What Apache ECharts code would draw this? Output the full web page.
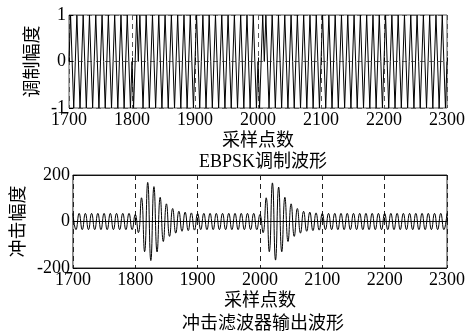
<!DOCTYPE html>
<html>
<head>
<meta charset="utf-8">
<script src="https://cdn.jsdelivr.net/npm/echarts@6/dist/echarts.min.js"></script>
<style>
  html, body { margin: 0; padding: 0; background: #fff; }
  #chart { width: 476px; height: 334px; }
</style>
</head>
<body>
<div id="chart"></div>
<script>
// x 轴刻度
const xTicks = [1700, 1800, 1900, 2000, 2100, 2200, 2300]

// 调制波形: 一个载波周期的四分之一点, 每周期的相位 (+1 正常, -1 反相)
const carrierShape = [0, 1, 0, -1]
const topCyclePhase = [
  1, 1, 1, 1, 1, 1, 1, 1, 1, 1,
  -1, 1, 1, 1, 1, 1, 1, 1, 1, 1,
  1, 1, 1, 1, 1, 1, 1, 1, 1, 1,
  -1, 1, 1, 1, 1, 1, 1, 1, 1, 1,
  1, 1, 1, 1, 1, 1, 1, 1, 1, 1,
  1, 1, 1, 1, 1, 1, 1, 1, 1, 1
]

// 冲击滤波器输出: 每周期的波峰 (1700+10k) 和波谷 (1705+10k)
const bottomPeaks = [
  35, 35, 35, 35, 35, 35, 35, 35, 35, 35,
  30, 102, 168, 150, 104, 76, 56, 44, 40, 37,
  35, 35, 35, 35, 35, 35, 35, 35, 35, 35,
  30, 102, 166, 148, 104, 76, 56, 44, 40, 37,
  35, 35, 35, 35, 35, 35, 35, 35, 35, 35,
  35, 35, 35, 35, 35, 35, 35, 35, 35, 35,
  35
]
const bottomTroughs = [
  -35, -35, -35, -35, -35, -35, -35, -35, -35, -35,
  -48, -130, -168, -131, -86, -64, -50, -42, -39, -37,
  -35, -35, -35, -35, -35, -35, -35, -35, -35, -35,
  -48, -130, -166, -130, -86, -64, -50, -42, -39, -37,
  -35, -35, -35, -35, -35, -35, -35, -35, -35, -35,
  -35, -35, -35, -35, -35, -35, -35, -35, -35, -35
]

const topData = []
topCyclePhase.forEach((ph, c) => {
  carrierShape.forEach((v, j) => {
    topData.push([xTicks[0] + 10 * c + 2.5 * j, ph * v])
  })
})
topData.push([xTicks[xTicks.length - 1], 0])

const bottomData = []
bottomPeaks.forEach((p, c) => {
  bottomData.push([xTicks[0] + 10 * c, p])
  if (c < bottomTroughs.length) bottomData.push([xTicks[0] + 10 * c + 5, bottomTroughs[c]])
})

const serif = "'Liberation Serif', 'Noto Sans CJK SC', serif"
const cjk = "'Noto Sans CJK SC', sans-serif"

const xAxisBase = (gridIndex, splitDash) => ({
  type: 'value',
  gridIndex,
  min: 1700,
  max: 2300,
  interval: 100,
  name: '采样点数',
  nameLocation: 'middle',
  nameGap: 21,
  nameTextStyle: {fontFamily: cjk, fontSize: 18, color: '#000'},
  axisLine: {show: false},
  axisTick: {show: true, inside: true, length: 4, lineStyle: {color: '#000'}},
  axisLabel: {fontFamily: serif, fontSize: 18, color: '#000', margin: 3, formatter: v => String(v)},
  splitLine: {show: true, lineStyle: {color: splitDash, type: [5, 4], width: 1}}
})

const chart = echarts.init(document.getElementById('chart'))
chart.setOption({
  animation: false,
  backgroundColor: '#fff',
  title: [
    {
      text: 'EBPSK调制波形', left: 258, top: 148, textAlign: 'center',
      textStyle: {fontFamily: serif, fontSize: 18, fontWeight: 'normal', color: '#000'}
    },
    {
      text: '冲击滤波器输出波形', left: 258, top: 308, textAlign: 'center',
      textStyle: {fontFamily: cjk, fontSize: 18, fontWeight: 'normal', color: '#000'}
    }
  ],
  grid: [
    {left: 69, top: 15, width: 378, height: 93, show: true, borderColor: '#555', borderWidth: 1},
    {left: 69, top: 175, width: 378, height: 93, show: true, borderColor: '#333', borderWidth: 1}
  ],
  xAxis: [
    xAxisBase(0, '#555'),
    xAxisBase(1, '#222')
  ],
  yAxis: [
    {
      type: 'value', gridIndex: 0, min: -1, max: 1, interval: 1,
      name: '调制幅度', nameLocation: 'middle', nameRotate: 90, nameGap: 23,
      nameTextStyle: {fontFamily: cjk, fontSize: 18, color: '#000'},
      axisLine: {show: false},
      axisTick: {show: true, inside: true, length: 4, lineStyle: {color: '#000'}},
      axisLabel: {fontFamily: serif, fontSize: 18, color: '#000', margin: 3},
      splitLine: {show: true, lineStyle: {color: '#666', type: [5, 4], width: 1}}
    },
    {
      type: 'value', gridIndex: 1, min: -200, max: 200, interval: 200,
      name: '冲击幅度', nameLocation: 'middle', nameRotate: 90, nameGap: 33,
      nameTextStyle: {fontFamily: cjk, fontSize: 18, color: '#000'},
      axisLine: {show: false},
      axisTick: {show: true, inside: true, length: 4, lineStyle: {color: '#000'}},
      axisLabel: {fontFamily: serif, fontSize: 18, color: '#000', margin: 3},
      splitLine: {show: true, lineStyle: {color: '#111', width: 1}}
    }
  ],
  series: [
    {
      type: 'line', xAxisIndex: 0, yAxisIndex: 0, data: topData,
      showSymbol: false, lineStyle: {color: '#000', width: 1}
    },
    {
      type: 'line', xAxisIndex: 1, yAxisIndex: 1, data: bottomData,
      showSymbol: false, smooth: 0.5, lineStyle: {color: '#000', width: 1}
    }
  ]
})
</script>
</body>
</html>
